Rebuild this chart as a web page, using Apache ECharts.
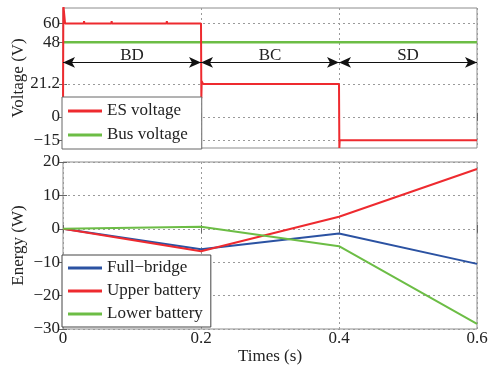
<!DOCTYPE html>
<html><head><meta charset="utf-8">
<script src="https://cdn.jsdelivr.net/npm/echarts@6/dist/echarts.min.js"></script>
<style>html,body{margin:0;padding:0;background:#fff}#c{width:490px;height:366px}</style>
</head><body><div id="c"></div>
<script>
// ---- data ----
const timeTicks = [0, 0.2, 0.4, 0.6];
const voltageTicks = [-15, 0, 21.2, 48, 60];
const voltageGridLines = [-15, 0, 21.2, 60];
const esTime    = [0, 0.0005, 0.003, 0.03, 0.0305, 0.031, 0.07, 0.0705, 0.071, 0.15, 0.1505, 0.151, 0.2, 0.2005, 0.201, 0.203, 0.4, 0.4005, 0.401, 0.6];
const esVoltage = [0, 72, 60, 60, 61.5, 60, 60, 61.5, 60, 60, 61.5, 60, 60, 12, 23, 21.2, 21.2, -20, -15, -15];
const busTime = [0, 0.6];
const busVoltage = [48, 48];
const phaseNames = ['BD', 'BC', 'SD'];
const phaseStart = [0, 0.2, 0.4];
const phaseEnd = [0.2, 0.4, 0.6];
const phaseArrowLevel = 35;
const energyTime = [0, 0.2, 0.4, 0.6];
const fullBridge = [0, -6.1, -1.4, -10.5];
const upperBattery = [0, -6.7, 3.6, 17.9];
const lowerBattery = [0, 0.6, -5.2, -28.5];

// ---- styles ----
const FONT = 'Liberation Serif';
const RED = '#ee2a2f', GREEN = '#6cbd45', BLUE = '#2b52a2';
const TXT = '#222';
const zip = (a, b) => a.map((v, i) => [v, b[i]]);
const fmt = v => String(v).replace('-', '\u2212');
const dotted = { type: [2, 3], color: '#9a9a9a', width: 1 };
const tick = { inside: true, length: 4, lineStyle: { color: '#666' } };

function xAxes(grid, labels) {
  return [
    { gridIndex: grid, type: 'value', min: 0, max: 0.6, interval: 0.2,
      axisLine: { show: false }, axisTick: tick,
      axisLabel: { show: labels, formatter: fmt, color: TXT, fontFamily: FONT, fontSize: 17, margin: 1 },
      splitLine: { show: true, lineStyle: dotted },
      name: labels ? 'Times (s)' : '', nameLocation: 'middle', nameGap: 19, nameMoveOverlap: false,
      nameTextStyle: { color: TXT, fontFamily: FONT, fontSize: 17 } },
    { gridIndex: grid, type: 'value', position: 'top', min: 0, max: 0.6, interval: 0.2,
      axisLine: { show: false }, axisTick: tick, axisLabel: { show: false }, splitLine: { show: false } }
  ];
}

const option = {
  animation: false,
  backgroundColor: '#fff',
  grid: [
    { left: 63, right: 13, top: 8, height: 140, show: true, borderColor: '#8c8c8c', borderWidth: 1, outerBoundsMode: 'none', containLabel: false },
    { left: 63, right: 13, top: 162, height: 167, show: true, borderColor: '#8c8c8c', borderWidth: 1, outerBoundsMode: 'none', containLabel: false }
  ],
  xAxis: [...xAxes(0, false), ...xAxes(1, true)],
  yAxis: [
    { gridIndex: 0, type: 'value', min: -20, max: 70,
      axisLine: { show: false },
      axisTick: Object.assign({ customValues: voltageTicks }, tick),
      axisLabel: { customValues: voltageTicks, formatter: fmt, color: TXT, fontFamily: FONT, fontSize: 17, margin: 3 },
      splitLine: { show: false },
      name: 'Voltage (V)', nameLocation: 'middle', nameGap: 36, nameMoveOverlap: false,
      nameTextStyle: { color: TXT, fontFamily: FONT, fontSize: 17 } },
    { gridIndex: 0, type: 'value', position: 'right', min: -20, max: 70,
      axisLine: { show: false },
      axisTick: Object.assign({ customValues: voltageTicks }, tick),
      axisLabel: { show: false }, splitLine: { show: false } },
    { gridIndex: 1, type: 'value', min: -30, max: 20, interval: 10,
      axisLine: { show: false }, axisTick: tick,
      axisLabel: { formatter: fmt, color: TXT, fontFamily: FONT, fontSize: 17, margin: 3 },
      splitLine: { show: true, lineStyle: dotted },
      name: 'Energy (W)', nameLocation: 'middle', nameGap: 36, nameMoveOverlap: false,
      nameTextStyle: { color: TXT, fontFamily: FONT, fontSize: 17 } },
    { gridIndex: 1, type: 'value', position: 'right', min: -30, max: 20, interval: 10,
      axisLine: { show: false }, axisTick: tick, axisLabel: { show: false }, splitLine: { show: false } }
  ],
  legend: [
    { data: ['ES voltage', 'Bus voltage'], orient: 'vertical', left: 62, top: 97,
      icon: 'rect', itemWidth: 34, itemHeight: 3, itemGap: 4, padding: [4, 14, 4, 6],
      backgroundColor: '#fff', borderColor: '#666', borderWidth: 1,
      textStyle: { color: TXT, fontFamily: FONT, fontSize: 17, lineHeight: 20 } },
    { data: ['Full\u2212bridge', 'Upper battery', 'Lower battery'], orient: 'vertical', left: 62, top: 255,
      icon: 'rect', itemWidth: 34, itemHeight: 3, itemGap: 3, padding: [3, 8, 3, 6],
      backgroundColor: '#fff', borderColor: '#444', borderWidth: 1,
      textStyle: { color: TXT, fontFamily: FONT, fontSize: 17, lineHeight: 20 } }
  ],
  series: [
    { name: 'ES voltage', type: 'line', xAxisIndex: 0, yAxisIndex: 0, data: zip(esTime, esVoltage),
      symbol: 'none', color: RED, lineStyle: { width: 2, color: RED }, z: 3,
      markLine: { silent: true, symbol: 'none', z: 1, label: { show: false },
        lineStyle: dotted, data: voltageGridLines.map(v => ({ yAxis: v })) } },
    { name: 'Bus voltage', type: 'line', xAxisIndex: 0, yAxisIndex: 0, data: zip(busTime, busVoltage),
      symbol: 'none', color: GREEN, lineStyle: { width: 2.5, color: GREEN }, z: 2,
      markLine: { silent: true, symbol: ['arrow', 'arrow'], symbolSize: [8, 12],
        lineStyle: { type: 'solid', color: '#111', width: 1 },
        label: { show: true, position: 'insideMiddleTop', distance: -2, color: TXT, fontFamily: FONT, fontSize: 17 },
        data: phaseNames.map((n, i) => [
          { coord: [phaseStart[i], phaseArrowLevel], name: n, label: { formatter: n } },
          { coord: [phaseEnd[i], phaseArrowLevel] }
        ]) } },
    { name: 'Full\u2212bridge', type: 'line', xAxisIndex: 2, yAxisIndex: 2, data: zip(energyTime, fullBridge),
      symbol: 'none', color: BLUE, lineStyle: { width: 2, color: BLUE } },
    { name: 'Upper battery', type: 'line', xAxisIndex: 2, yAxisIndex: 2, data: zip(energyTime, upperBattery),
      symbol: 'none', color: RED, lineStyle: { width: 2, color: RED } },
    { name: 'Lower battery', type: 'line', xAxisIndex: 2, yAxisIndex: 2, data: zip(energyTime, lowerBattery),
      symbol: 'none', color: GREEN, lineStyle: { width: 2, color: GREEN } }
  ]
};
const chart = echarts.init(document.getElementById('c'), null, { renderer: 'canvas' });
chart.setOption(option);
</script></body></html>
